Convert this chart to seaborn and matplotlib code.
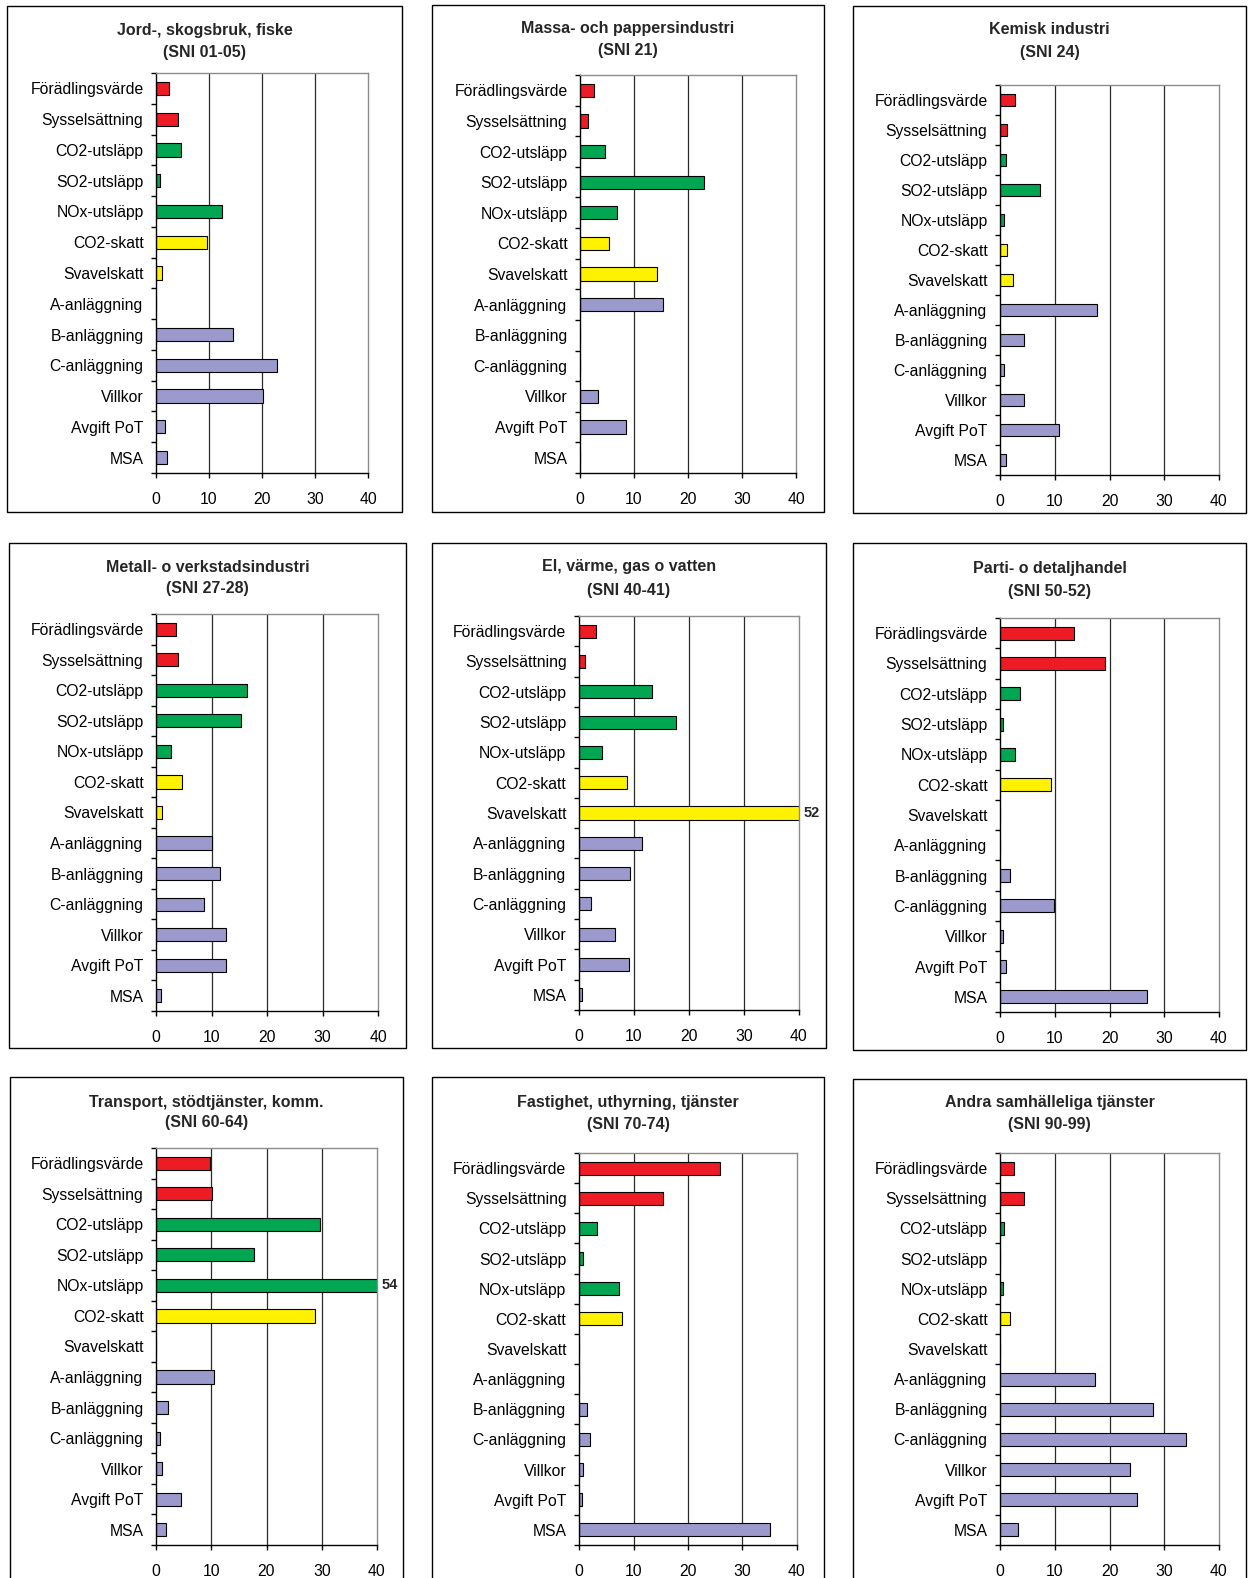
import matplotlib
matplotlib.use("Agg")
import matplotlib.pyplot as plt
import seaborn as sns
from matplotlib.patches import Rectangle

# --- data -------------------------------------------------------------
categories = ["Förädlingsvärde", "Sysselsättning", "CO2-utsläpp", "SO2-utsläpp",
              "NOx-utsläpp", "CO2-skatt", "Svavelskatt", "A-anläggning",
              "B-anläggning", "C-anläggning", "Villkor", "Avgift PoT", "MSA"]

titles = [
    ("Jord-, skogsbruk, fiske", "(SNI 01-05)"),
    ("Massa- och pappersindustri", "(SNI 21)"),
    ("Kemisk industri", "(SNI 24)"),
    ("Metall- o verkstadsindustri", "(SNI 27-28)"),
    ("El, värme, gas o vatten", "(SNI 40-41)"),
    ("Parti- o detaljhandel", "(SNI 50-52)"),
    ("Transport, stödtjänster, komm.", "(SNI 60-64)"),
    ("Fastighet, uthyrning, tjänster", "(SNI 70-74)"),
    ("Andra samhälleliga tjänster", "(SNI 90-99)"),
]

jord = [2.4, 4.1, 4.8, 0.7, 12.4, 9.6, 1.2, 0, 14.6, 22.9, 20.1, 1.7, 2.1]
massa = [2.5, 1.4, 4.6, 22.9, 6.9, 5.3, 14.2, 15.4, 0, 0, 3.3, 8.6, 0]
kemisk = [2.7, 1.3, 1.1, 7.3, 0.7, 1.3, 2.3, 17.7, 4.4, 0.7, 4.4, 10.7, 1.1]
metall = [3.6, 3.9, 16.4, 15.3, 2.7, 4.6, 1.1, 10.0, 11.6, 8.6, 12.7, 12.6, 0.95]
el = [3.0, 1.1, 13.3, 17.7, 4.2, 8.8, 52, 11.4, 9.3, 2.1, 6.5, 9.1, 0.5]
parti = [13.5, 19.1, 3.7, 0.5, 2.7, 9.3, 0, 0, 1.8, 9.8, 0.5, 1.1, 26.8]
transport = [9.8, 10.2, 29.6, 17.7, 54, 28.7, 0, 10.5, 2.1, 0.7, 1.0, 4.5, 1.9]
fastighet = [25.8, 15.5, 3.3, 0.7, 7.4, 7.9, 0, 0, 1.4, 2.1, 0.7, 0.5, 35.1]
andra = [2.6, 4.4, 0.7, 0, 0.5, 1.8, 0, 17.3, 27.9, 34.0, 23.7, 25.1, 3.2]

panels = [jord, massa, kemisk, metall, el, parti, transport, fastighet, andra]

# --- style ------------------------------------------------------------
RED, GREEN, YELLOW, LILAC = "#ED1C24", "#00A651", "#FFF200", "#9C99CC"
bar_colors = [RED, RED, GREEN, GREEN, GREEN, YELLOW, YELLOW] + [LILAC] * 6

W, H = 1250, 1578
XMAX = 40

# axes rectangles in pixels: left, right, top, bottom
axes_px = [
    (156, 368, 73, 473), (580, 796, 75, 473), (1000, 1219, 85, 475),
    (156, 378, 614, 1011), (579, 799, 616, 1010), (1000, 1219, 618, 1012),
    (156, 377, 1148, 1545), (579, 797, 1153, 1545), (1000, 1219, 1153, 1545),
]
# panel frames in pixels: left, right, top, bottom
boxes_px = [
    (7, 402, 6, 512), (432, 824, 5, 512), (853, 1246, 6, 513),
    (9, 406, 543, 1048), (432, 826, 543, 1048), (853, 1246, 543, 1050),
    (10, 403, 1077, 1620), (432, 824, 1077, 1620), (853, 1246, 1079, 1620),
]
# title line centres (y of line 1 and line 2)
title_y = [(30, 52), (29, 50), (30, 52), (567, 589), (567, 590), (568, 592),
           (1102, 1123), (1102, 1124), (1103, 1125)]

sns.set_theme(style="white")
plt.rcParams["font.family"] = ["Liberation Sans", "DejaVu Sans"]

fig = plt.figure(figsize=(W / 100, H / 100), dpi=100)
fig.patch.set_facecolor("white")


def fx(px):
    return px / W


def fy(py):
    return 1 - py / H


for i, values in enumerate(panels):
    bl, br, bt, bb = boxes_px[i]
    fig.patches.append(Rectangle((fx(bl), fy(bb)), fx(br - bl), (bb - bt) / H,
                                 transform=fig.transFigure, fill=False,
                                 edgecolor="black", linewidth=1.0, zorder=0))

    l, r, t, b = axes_px[i]
    ax = fig.add_axes([fx(l), fy(b), fx(r - l), (b - t) / H])

    sns.barplot(x=values, y=categories, hue=categories, palette=bar_colors,
                legend=False, orient="h", ax=ax, width=0.43,
                edgecolor="black", linewidth=0.8, saturation=1)

    ax.set_xlim(0, XMAX)
    ax.set_ylim(len(categories) - 0.5, -0.5)
    ax.set_xticks(range(0, XMAX + 1, 10))
    ax.set_xlabel("")
    ax.set_ylabel("")

    ax.set_axisbelow(True)
    for gx in (10, 20, 30):
        ax.axvline(gx, color="#2a2a2a", linewidth=0.9, zorder=0)

    for side in ("top", "right"):
        ax.spines[side].set_color("#8c8c8c")
        ax.spines[side].set_linewidth(1.0)
    for side in ("left", "bottom"):
        ax.spines[side].set_color("black")
        ax.spines[side].set_linewidth(1.0)

    ax.tick_params(axis="y", which="major", length=0, pad=9, labelsize=11.3,
                   colors="black")
    ax.set_yticks([k + 0.5 for k in range(-1, len(categories))], minor=True)
    ax.tick_params(axis="y", which="minor", left=True, length=3.6, width=1.0,
                   direction="out", color="black")
    ax.tick_params(axis="x", which="major", bottom=True, length=3.6, width=1.0,
                   direction="out", pad=10, labelsize=11.3, colors="black")

    # values beyond the axis range get their number printed at the edge
    for k, v in enumerate(values):
        if v > XMAX:
            ax.annotate(f"{v:g}", xy=(XMAX, k), xytext=(3, 0),
                        textcoords="offset points", ha="left", va="center",
                        fontsize=10.5, fontweight="bold", annotation_clip=False)

    cx = fx((bl + br) / 2)
    y1, y2 = title_y[i]
    fig.text(cx, fy(y1), titles[i][0], ha="center", va="center",
             fontsize=11.5, fontweight="bold")
    fig.text(cx, fy(y2), titles[i][1], ha="center", va="center",
             fontsize=11.5, fontweight="bold")

fig.savefig("out.png", dpi=100, facecolor="white")
